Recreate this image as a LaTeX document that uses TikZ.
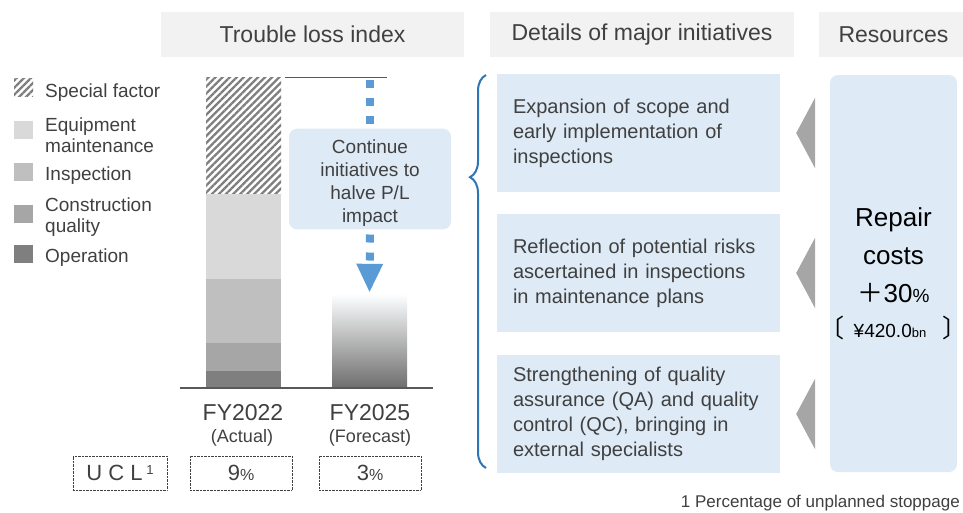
\documentclass[tikz,border=0pt]{standalone}
\usepackage{fontspec}
\setmainfont{Liberation Sans}
\newfontfamily\cjk{Noto Sans CJK JP}
\usetikzlibrary{patterns.meta,decorations.pathreplacing,arrows.meta,calc}

\definecolor{txtgray}{HTML}{404040}
\definecolor{hdrgray}{HTML}{F2F2F2}
\definecolor{paleblue}{HTML}{DEEAF6}
\definecolor{arrowblue}{HTML}{5B9BD5}
\definecolor{bracecol}{HTML}{2E75B6}
\definecolor{equipcol}{HTML}{D9D9D9}
\definecolor{inspcol}{HTML}{BFBFBF}
\definecolor{constcol}{HTML}{A6A6A6}
\definecolor{opercol}{HTML}{7F7F7F}

\newcommand{\fs}[2]{\fontsize{#1}{#2}\selectfont}

\begin{document}
\begin{tikzpicture}[x=1pt, y=-1pt, text=txtgray,
	header/.style={fill=hdrgray, minimum height=45pt, inner sep=0pt, font=\fs{23}{27}},
	initbox/.style={fill=paleblue, minimum height=118pt, text width=251pt, inner xsep=16pt, inner ysep=0pt, align=left, font=\fs{20}{25}},
	legkey/.style={minimum width=19pt, minimum height=18pt, inner sep=0pt},
	legtext/.style={anchor=west, align=left, inner sep=0pt, font=\fs{19}{21}},
	hatched/.style={pattern={Lines[angle=45, distance=5pt, line width=2.3pt]}, pattern color=opercol},
	uclbox/.style={draw=txtgray, densely dotted, minimum width=102pt, minimum height=34pt, inner sep=0pt, font=\fs{22}{26}},
	pointer/.style={fill=constcol},
	dashline/.style={arrowblue, line width=8pt, dash pattern=on 8pt off 10pt}]
		\useasboundingbox (0,0) rectangle (963,512);
		% column headers
		\node (hdrloss) at (312.5,34.5) [header, minimum width=303pt] {Trouble loss index};
		\node (hdrinit) at (642,34.5)   [header, minimum width=304pt] {Details of major initiatives};
		\node (hdrres)  at (893.5,34.5) [header, minimum width=149pt] {Resources};
		% legend
		\node (keyspec)  at (23.5,87.5) [legkey, hatched] {};
		\node (keyequip) at (23.5,130)  [legkey, fill=equipcol] {};
		\node (keyinsp)  at (23.5,172)  [legkey, fill=inspcol] {};
		\node (keyconst) at (23.5,213.5) [legkey, fill=constcol] {};
		\node (keyoper)  at (23.5,254)  [legkey, fill=opercol] {};
		\node (txtspec)  at (45,93)  [legtext] {Special factor};
		\node (txtequip) at (45,135) [legtext] {Equipment\\maintenance};
		\node (txtinsp)  at (45,176) [legtext] {Inspection};
		\node (txtconst) at (45,217) [legtext] {Construction\\quality};
		\node (txtoper)  at (45,258) [legtext] {Operation};
		% FY2022 bar
		\fill[hatched]       (206,77)  rectangle (281,194);
		\fill[equipcol]      (206,194) rectangle (281,279);
		\fill[inspcol]       (206,279) rectangle (281,343);
		\fill[constcol]      (206,343) rectangle (281,371);
		\fill[opercol]       (206,371) rectangle (281,388);
		% FY2025 bar
		\node (fy25bar) at (369.5,341.5) [minimum width=75pt, minimum height=93pt, inner sep=0pt,
			top color=white!92!paleblue, bottom color=black!57] {};
		\draw[line width=1.5pt, black!65] (180,388) -- (433,388);
		\draw[line width=1pt, black!65] (285,77.5) -- (387,77.5);
		\coordinate (losstop) at (370,78);
		% halving arrow
		\draw[dashline, dash phase=16pt] (losstop) -- (370,133);
		\node (halve) at (370,179) [fill=paleblue, rounded corners=8pt, minimum width=162pt, minimum height=92pt,
			align=center, font=\fs{19}{23}] {\rule{0pt}{21pt}Continue\\initiatives to\\halve P/L\\impact};
		\draw[dashline, dash phase=13pt, -{Triangle[width=27pt, length=28pt, line width=0pt]}, shorten >=3pt]
			(halve.south) -- (fy25bar.north);
		% bar labels
		\node (fy22lbl) at (243,413) [font=\fs{23}{25}] {FY2022};
		\node (fy22sub) at (242,438) [font=\fs{18}{20}] {(Actual)};
		\node (fy25lbl) at (370,413) [font=\fs{23}{25}] {FY2025};
		\node (fy25sub) at (370,438) [font=\fs{18}{20}] {(Forecast)};
		% UCL row
		\node (ucl)   at (120,473) [uclbox, minimum width=94pt] {U C L\,\raisebox{6pt}{\fs{13}{13}1}};
		\node (ucl22) at (241,473) [uclbox] {9{\fs{16}{16}\%}};
		\node (ucl25) at (370,473) [uclbox] {3{\fs{16}{16}\%}};
		% initiatives
		\draw[bracecol, line width=2pt, decorate, decoration={brace, amplitude=16pt, aspect=0.74}]
			(486,468) -- (486,75);
		\node (init1) at (638.5,133) [initbox] {Expansion of scope and\\early implementation of\\inspections};
		\node (init2) at (638.5,273) [initbox] {Reflection of potential risks\\ascertained in inspections\\in maintenance plans};
		\node (init3) at (638.5,414) [initbox] {Strengthening of quality\\assurance (QA) and quality\\control (QC), bringing in\\external specialists};
		\foreach \n in {init1,init2,init3}
			\fill[pointer] ($(\n.east)+(16,0)$) -- ++(19,-35.5) -- ++(0,71) -- cycle;
		% resources
		\node (repair) at (893.5,273.5) [fill=paleblue, rounded corners=8pt, minimum width=127pt, minimum height=397pt,
			inner xsep=0pt, align=center, text=black, font=\fs{26}{38}]
			{Repair\\costs\\{\cjk ＋}30{\fs{19}{19}\%}\\[-3pt]{\fs{19}{23}\llap{\fs{25}{25}\cjk 〔}\kern9pt¥420.0{\fs{13}{13}bn}\kern16pt\rlap{\fs{25}{25}\cjk 〕}}};
		\node (footnote) at (960,503) [anchor=east, inner sep=0pt, font=\fs{17}{19}] {1 Percentage of unplanned stoppage};
\end{tikzpicture}
\end{document}
